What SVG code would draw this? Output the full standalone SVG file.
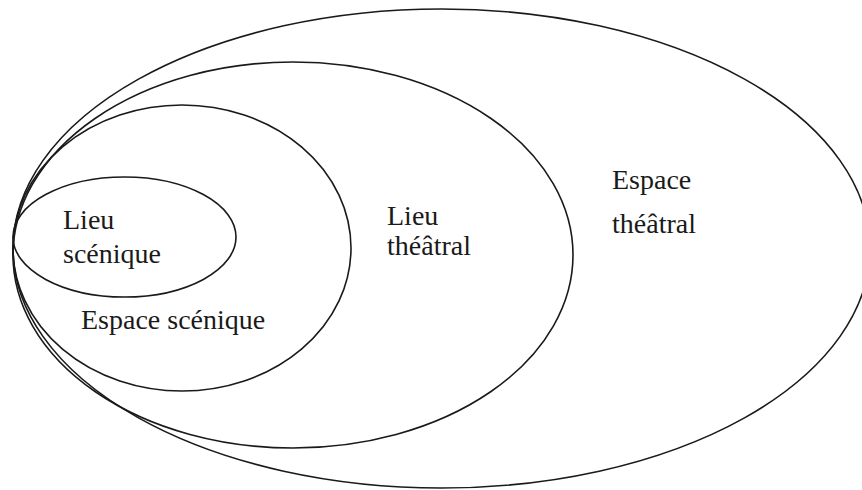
<svg xmlns="http://www.w3.org/2000/svg" width="862" height="490" viewBox="0 0 862 490">
  <style>
    .ring { fill: none; stroke: #1a1a1a; stroke-width: 1.6; }
    .label { font-family: "Liberation Serif", "Times New Roman", serif; font-size: 28px; fill: #1a1a1a; }
  </style>
  <rect width="862" height="490" fill="#ffffff"/>

  <!-- Nested sets, all touching on the left side -->
  <g id="espace-theatral">
    <ellipse class="ring" cx="441.5" cy="248.5" rx="428.5" ry="239.5"/>
    <text class="label" x="612" y="189">Espace</text>
    <text class="label" x="612" y="233">théâtral</text>
  </g>

  <g id="lieu-theatral">
    <ellipse class="ring" cx="293" cy="255" rx="280" ry="193"/>
    <text class="label" x="387" y="225">Lieu</text>
    <text class="label" x="387" y="255">théâtral</text>
  </g>

  <g id="espace-scenique">
    <ellipse class="ring" cx="182" cy="248" rx="169" ry="143"/>
    <text class="label" x="81" y="329">Espace scénique</text>
  </g>

  <g id="lieu-scenique">
    <ellipse class="ring" cx="124.5" cy="237" rx="111.5" ry="60"/>
    <text class="label" x="63" y="229">Lieu</text>
    <text class="label" x="63" y="263">scénique</text>
  </g>

  <g id="connectors"></g>
</svg>
